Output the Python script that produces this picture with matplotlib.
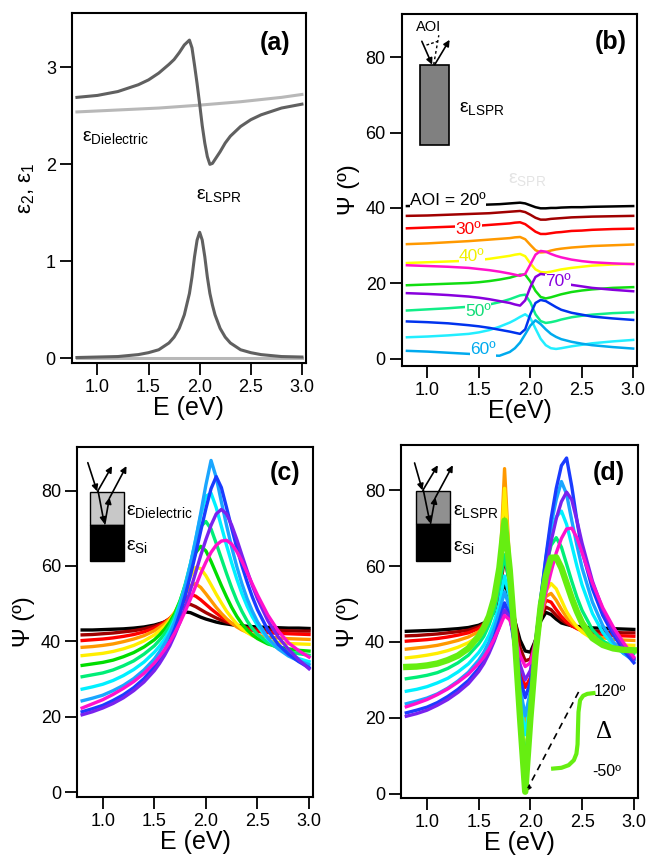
import numpy as np
import matplotlib.pyplot as plt
from matplotlib.patches import Rectangle

plt.rcParams['font.family'] = ['Liberation Sans', 'DejaVu Sans']
plt.rcParams['mathtext.fontset'] = 'custom'
plt.rcParams['mathtext.rm'] = 'Liberation Sans'
plt.rcParams['mathtext.it'] = 'Liberation Sans:italic'
plt.rcParams['mathtext.bf'] = 'Liberation Sans:bold'

# ---------------- panel (a): dielectric functions ----------------
Ea = [0.8, 1.0, 1.2, 1.4, 1.5, 1.6, 1.7, 1.75, 1.8, 1.85, 1.9, 1.925, 1.95, 1.975,
      2.0, 2.025, 2.05, 2.075, 2.1, 2.125, 2.15, 2.2, 2.25, 2.3, 2.4, 2.5, 2.6, 2.8, 3.0]
eps1_lspr = [2.69, 2.71, 2.75, 2.82, 2.87, 2.94, 3.03, 3.08, 3.15, 3.23, 3.28, 3.20, 3.02, 2.83,
             2.62, 2.40, 2.22, 2.08, 2.00, 2.01, 2.05, 2.13, 2.22, 2.29, 2.39, 2.46, 2.51, 2.58, 2.62]
eps2_lspr = [0.01, 0.015, 0.02, 0.04, 0.06, 0.09, 0.16, 0.22, 0.31, 0.45, 0.67, 0.84, 1.05, 1.22,
             1.30, 1.22, 1.05, 0.84, 0.67, 0.55, 0.45, 0.31, 0.22, 0.16, 0.09, 0.06, 0.04, 0.02, 0.015]
Ed = [0.8, 1.2, 1.6, 2.0, 2.4, 2.8, 3.0]
eps1_diel = [2.54, 2.56, 2.58, 2.61, 2.645, 2.69, 2.72]
eps2_diel = [0.0, 0.0, 0.0, 0.0, 0.0, 0.0, 0.0]

# ---------------- panel (b): Psi of LSPR bulk, AOI 20..75 ----------------
aoi = [20, 25, 30, 35, 40, 45, 50, 55, 60, 65, 70, 75]
Eb = [0.8, 1.0, 1.2, 1.4, 1.5, 1.6, 1.7, 1.8, 1.85, 1.9, 1.95, 2.0, 2.05, 2.1,
      2.15, 2.2, 2.25, 2.3, 2.4, 2.5, 2.6, 2.8, 3.0]
psi_b = {
    20: [40.5, 40.6, 40.6, 40.7, 40.8, 40.9, 41.0, 41.2, 41.3, 41.4, 41.2, 40.7, 40.2, 39.9,
         39.9, 40.0, 40.0, 40.1, 40.2, 40.2, 40.3, 40.4, 40.5],
    25: [37.9, 38.0, 38.2, 38.4, 38.5, 38.6, 38.8, 39.0, 39.1, 39.2, 38.9, 38.2, 37.4, 36.9,
         36.9, 37.1, 37.2, 37.3, 37.5, 37.6, 37.7, 37.8, 37.9],
    30: [34.6, 34.8, 35.0, 35.2, 35.3, 35.5, 35.7, 35.9, 36.1, 36.2, 35.7, 34.7, 33.7, 33.1,
         33.1, 33.3, 33.5, 33.6, 33.9, 34.0, 34.2, 34.4, 34.5],
    35: [30.4, 30.6, 30.9, 31.2, 31.4, 31.6, 31.8, 32.0, 32.2, 32.3, 31.7, 30.2, 28.8, 28.2,
         28.3, 28.7, 29.0, 29.2, 29.5, 29.7, 29.9, 30.1, 30.3],
    40: [25.4, 25.6, 25.8, 26.0, 26.2, 26.5, 26.9, 27.3, 27.6, 27.8, 27.2, 25.3, 23.7, 23.0,
         22.9, 23.1, 23.4, 23.7, 24.1, 24.4, 24.7, 25.0, 25.2],
    45: [19.5, 19.7, 19.9, 20.1, 20.3, 20.6, 21.0, 21.5, 21.9, 22.3, 22.3, 20.5, 18.0, 16.4,
         16.0, 16.3, 16.7, 17.1, 17.7, 18.1, 18.4, 18.8, 19.0],
    50: [12.8, 13.1, 13.4, 13.8, 14.0, 14.4, 15.0, 15.8, 16.3, 16.8, 17.0, 15.0, 11.8, 10.0,
         9.5, 9.7, 10.0, 10.4, 11.0, 11.4, 11.7, 12.1, 12.3],
    55: [5.7, 5.9, 6.2, 6.6, 7.0, 7.6, 8.5, 9.6, 10.3, 11.1, 11.8, 10.8, 8.0, 5.3,
         3.6, 2.8, 2.6, 2.8, 3.3, 3.7, 4.1, 4.6, 5.0],
    60: [2.1, 1.9, 1.6, 1.3, 1.1, 0.9, 0.8, 1.8, 2.8, 4.3, 6.5, 8.8, 10.2, 9.2,
         7.8, 6.6, 5.8, 5.2, 4.5, 4.0, 3.6, 3.1, 2.7],
    65: [9.9, 9.7, 9.4, 8.9, 8.6, 8.2, 7.7, 7.2, 6.9, 6.6, 7.8, 11.8, 14.8, 15.6,
         15.3, 14.5, 13.7, 13.0, 12.2, 11.7, 11.2, 10.7, 10.3],
    70: [17.4, 17.2, 16.9, 16.5, 16.2, 15.8, 15.3, 14.8, 14.4, 14.1, 15.5, 19.0, 21.7, 22.5,
         22.3, 21.6, 21.0, 20.4, 19.6, 19.2, 18.8, 18.3, 17.9],
    75: [24.8, 24.6, 24.4, 24.1, 23.8, 23.5, 23.1, 22.6, 22.3, 22.0, 22.5, 25.0, 27.6, 28.6,
         28.4, 27.8, 27.3, 26.9, 26.3, 25.9, 25.6, 25.3, 25.1],
}
colors_b = ['#000000', '#a00000', '#ff0000', '#ff9900', '#ffff00', '#11dd11',
            '#11ee88', '#22eeff', '#00aaee', '#0033ee', '#8800dd', '#ff11cc']

# ---------------- panels (c) and (d): film on Si ----------------
Ecd = [0.8, 0.9, 1.0, 1.1, 1.2, 1.3, 1.4, 1.5, 1.55, 1.6, 1.65, 1.7, 1.75, 1.8, 1.85, 1.9,
       1.95, 2.0, 2.05, 2.1, 2.15, 2.2, 2.25, 2.3, 2.35, 2.4, 2.45, 2.5, 2.6, 2.7, 2.8, 2.9, 3.0]
psi_c = {
    20: [43.0, 43.0, 43.1, 43.2, 43.3, 43.5, 43.8, 44.3, 44.7, 45.1, 45.7, 46.4, 47.2, 47.8, 47.6, 47.0,
         46.4, 45.9, 45.5, 45.1, 44.8, 44.6, 44.4, 44.2, 44.1, 44.0, 43.9, 43.8, 43.7, 43.6, 43.5, 43.5, 43.4],
    25: [41.7, 41.8, 42.0, 42.2, 42.5, 42.8, 43.3, 44.0, 44.5, 45.2, 46.0, 47.0, 48.4, 49.6, 49.8, 49.2,
         48.4, 47.6, 46.9, 46.2, 45.6, 45.1, 44.6, 44.2, 43.9, 43.6, 43.4, 43.2, 43.0, 42.9, 42.8, 42.7, 42.7],
    30: [40.2, 40.4, 40.6, 40.9, 41.3, 41.8, 42.5, 43.5, 44.2, 45.0, 46.1, 47.5, 49.3, 51.2, 52.4, 52.0,
         51.0, 49.8, 48.6, 47.5, 46.5, 45.6, 44.8, 44.1, 43.6, 43.2, 42.9, 42.6, 42.3, 42.1, 42.0, 41.9, 41.8],
    35: [38.4, 38.6, 38.9, 39.3, 39.9, 40.6, 41.5, 42.8, 43.7, 44.7, 46.0, 47.7, 50.0, 52.6, 54.8, 55.3,
         54.3, 52.6, 50.8, 49.0, 47.4, 46.0, 44.8, 43.8, 43.0, 42.4, 41.9, 41.6, 41.1, 40.9, 40.7, 40.6, 40.5],
    40: [36.2, 36.5, 36.8, 37.3, 38.0, 38.9, 40.1, 41.7, 42.8, 44.0, 45.6, 47.7, 50.5, 53.8, 57.2, 59.6,
         59.3, 57.4, 55.0, 52.5, 50.2, 48.0, 46.2, 44.6, 43.3, 42.3, 41.5, 40.9, 40.1, 39.7, 39.4, 39.3, 39.2],
    45: [33.6, 34.0, 34.4, 35.0, 35.9, 37.0, 38.5, 40.4, 41.7, 43.2, 45.1, 47.5, 50.8, 54.8, 59.5, 63.5,
         65.2, 64.0, 61.2, 58.0, 54.8, 51.8, 49.0, 46.6, 44.6, 43.0, 41.7, 40.7, 39.3, 38.5, 38.0, 37.6, 37.4],
    50: [30.6, 31.1, 31.6, 32.4, 33.5, 34.8, 36.6, 38.8, 40.3, 42.0, 44.1, 46.8, 50.6, 55.2, 60.5, 66.0,
         70.5, 71.8, 69.8, 66.0, 62.0, 58.0, 54.2, 50.8, 47.9, 45.4, 43.4, 41.8, 39.6, 38.2, 37.3, 36.7, 36.3],
    55: [27.3, 27.9, 28.6, 29.6, 30.9, 32.5, 34.5, 37.1, 38.7, 40.6, 42.9, 45.9, 49.9, 54.8, 60.5, 67.0,
         73.5, 78.5, 79.3, 75.5, 70.5, 65.5, 60.8, 56.5, 52.6, 49.3, 46.5, 44.2, 40.6, 38.2, 36.5, 35.4, 34.6],
    60: [24.2, 24.9, 25.7, 26.9, 28.3, 30.1, 32.4, 35.3, 37.2, 39.4, 42.0, 45.2, 49.5, 54.5, 60.3, 66.8,
         74.0, 81.5, 88.0, 83.5, 77.0, 70.8, 65.0, 59.8, 55.2, 51.3, 48.0, 45.2, 40.9, 38.0, 36.1, 34.8, 33.8],
    65: [21.3, 22.1, 23.0, 24.3, 25.8, 27.7, 30.1, 33.2, 35.2, 37.5, 40.2, 43.5, 47.5, 52.2, 57.5, 63.2,
         69.3, 75.2, 80.5, 83.7, 80.8, 75.5, 70.0, 64.8, 60.0, 55.7, 51.8, 48.4, 43.0, 39.2, 36.6, 34.6, 33.0],
    70: [20.5, 21.3, 22.3, 23.5, 25.0, 26.9, 29.2, 32.2, 34.1, 36.3, 38.8, 41.8, 45.2, 49.2, 53.6, 58.2,
         62.8, 67.0, 70.8, 73.8, 75.0, 73.8, 70.8, 67.0, 62.8, 58.7, 54.8, 51.3, 45.5, 41.2, 37.9, 35.1, 32.7],
    75: [22.3, 23.4, 24.5, 25.9, 27.5, 29.3, 31.5, 34.2, 35.9, 37.8, 39.9, 42.3, 45.0, 48.0, 51.2, 54.6,
         58.0, 61.0, 63.6, 65.5, 66.6, 66.8, 65.8, 63.8, 61.2, 58.2, 55.2, 52.3, 47.0, 42.8, 39.6, 37.5, 35.8],
}
psi_d = {
    20: [42.8, 42.9, 43.0, 43.1, 43.3, 43.5, 43.8, 44.4, 45.0, 46.0, 47.8, 51.0, 55.5, 51.5, 45.5, 40.5,
         37.6, 37.3, 40.5, 45.5, 47.8, 47.2, 46.0, 45.0, 44.6, 44.3, 44.1, 43.9, 43.7, 43.6, 43.5, 43.4, 43.3],
    25: [41.6, 41.7, 41.9, 42.1, 42.4, 42.7, 43.1, 44.0, 44.8, 46.2, 48.6, 53.0, 62.0, 55.5, 45.5, 38.5,
         35.0, 35.5, 40.5, 46.5, 49.2, 48.5, 47.0, 45.8, 44.9, 44.2, 43.7, 43.3, 42.9, 42.7, 42.5, 42.4, 42.4],
    30: [40.2, 40.4, 40.6, 40.9, 41.3, 41.8, 42.4, 43.5, 44.5, 46.0, 48.8, 54.5, 73.0, 60.0, 44.0, 33.0,
         28.0, 30.5, 39.0, 47.0, 51.0, 50.5, 48.5, 46.7, 45.3, 44.3, 43.5, 42.9, 42.2, 41.9, 41.7, 41.6, 41.5],
    35: [38.1, 38.4, 38.7, 39.1, 39.7, 40.4, 41.3, 42.7, 43.8, 45.5, 48.8, 56.0, 85.7, 60.0, 40.0, 26.0,
         18.5, 24.0, 36.0, 46.5, 52.0, 52.8, 51.0, 48.6, 46.5, 45.0, 43.8, 42.9, 41.7, 41.1, 40.7, 40.5, 40.4],
    40: [35.8, 36.1, 36.5, 37.0, 37.7, 38.6, 39.8, 41.5, 42.8, 44.8, 48.5, 57.0, 80.5, 60.0, 38.5, 22.0,
         11.0, 19.5, 35.0, 47.0, 53.5, 55.4, 54.0, 51.0, 48.0, 45.8, 44.0, 42.6, 40.8, 39.9, 39.4, 39.2, 39.1],
    45: [33.4, 33.5, 33.8, 34.3, 35.2, 36.4, 38.3, 41.5, 43.8, 46.8, 51.5, 59.5, 72.0, 59.0, 41.0, 20.0,
         0.5, 20.0, 37.0, 49.5, 57.5, 62.2, 62.3, 59.5, 55.5, 51.5, 48.0, 45.0, 41.0, 39.2, 38.3, 37.9, 37.8],
    50: [30.3, 30.7, 31.2, 31.9, 33.0, 34.5, 36.5, 39.5, 41.5, 44.5, 48.5, 54.5, 63.0, 55.0, 38.0, 20.0,
         9.0, 22.0, 38.0, 51.0, 60.0, 65.5, 67.5, 65.0, 60.5, 56.0, 51.8, 48.3, 43.2, 40.3, 38.6, 37.6, 37.0],
    55: [27.0, 27.5, 28.2, 29.2, 30.4, 32.1, 34.2, 37.2, 39.2, 41.8, 45.2, 50.0, 57.4, 51.5, 38.5, 25.0,
         15.5, 25.0, 38.5, 51.0, 61.0, 68.5, 73.0, 74.5, 71.0, 65.5, 60.0, 55.0, 47.5, 42.5, 39.2, 37.0, 35.5],
    60: [23.7, 24.4, 25.2, 26.3, 27.8, 29.7, 32.0, 35.2, 37.3, 40.0, 43.5, 48.0, 53.2, 49.0, 38.5, 28.0,
         20.5, 27.0, 39.5, 51.5, 62.0, 71.0, 77.5, 82.3, 79.0, 72.0, 65.5, 59.5, 50.5, 44.3, 40.0, 37.0, 35.0],
    65: [21.3, 22.0, 22.8, 24.0, 25.6, 27.5, 29.8, 33.0, 35.2, 38.0, 41.3, 45.6, 50.3, 47.0, 38.5, 30.5,
         25.3, 29.5, 40.0, 51.5, 62.5, 72.5, 80.5, 86.5, 88.5, 81.0, 72.0, 64.0, 54.0, 47.0, 42.0, 37.8, 34.5],
    70: [20.4, 21.1, 22.0, 23.3, 24.8, 26.7, 29.0, 32.2, 34.3, 37.0, 40.2, 44.0, 48.4, 46.5, 40.5, 34.0,
         30.0, 32.5, 40.5, 50.0, 59.0, 66.5, 72.5, 77.0, 79.5, 77.5, 72.0, 66.0, 56.0, 48.5, 43.0, 38.8, 35.5],
    75: [22.9, 23.8, 24.8, 26.1, 27.6, 29.4, 31.5, 34.3, 36.0, 38.2, 40.8, 43.8, 47.0, 45.8, 41.5, 36.5,
         33.5, 34.5, 40.0, 46.5, 53.0, 58.5, 63.5, 67.3, 69.8, 70.0, 67.5, 63.5, 55.5, 49.0, 44.0, 39.8, 36.0],
}
colors_cd = ['#000000', '#a00000', '#ff0000', '#ff9900', '#ffee00', '#00dd00',
             '#00ee77', '#00f0ff', '#1aa6ff', '#1a3cff', '#7a22ee', '#ff11cc']
lime = '#66ee11'

# Delta step drawn inside panel (d)
E_delta = [2.22, 2.30, 2.37, 2.42, 2.445, 2.456, 2.46, 2.465, 2.48, 2.51, 2.55, 2.61]
psi_delta = [6.6, 6.8, 7.5, 8.8, 10.5, 13.0, 17.0, 21.5, 24.6, 25.8, 26.3, 26.5]


def style(ax, ylim, yticks):
    ax.set_xlim(0.75, 3.04)
    ax.set_ylim(*ylim)
    ax.set_xticks([1.0, 1.5, 2.0, 2.5, 3.0])
    ax.set_xticklabels(['1.0', '1.5', '2.0', '2.5', '3.0'])
    ax.set_yticks(yticks)
    ax.tick_params(direction='out', length=8.5, width=1.3, labelsize=13,
                   top=False, right=False, pad=3)
    for s in ax.spines.values():
        s.set_linewidth(1.5)


def arrow(ax, p0, p1, lw=1.2):
    ax.annotate('', xy=p1, xytext=p0,
                arrowprops=dict(arrowstyle='-|>', color='k', lw=lw,
                                mutation_scale=9, shrinkA=0, shrinkB=0))


def eps(sub):
    return 'ε$_{\\mathregular{' + sub + '}}$'


fig = plt.figure(figsize=(6.47, 8.61), dpi=100)
ax_a = fig.add_axes([0.111, 0.578, 0.362, 0.407])
ax_b = fig.add_axes([0.621, 0.575, 0.364, 0.409])
ax_c = fig.add_axes([0.119, 0.074, 0.365, 0.407])
ax_d = fig.add_axes([0.620, 0.073, 0.366, 0.410])

# (a)
ax_a.plot(Ed, eps1_diel, color='#b8b8b8', lw=2.2)
ax_a.plot(Ed, eps2_diel, color='#b8b8b8', lw=2.2)
ax_a.plot(Ea, eps1_lspr, color='#606060', lw=2.2)
ax_a.plot(Ea, eps2_lspr, color='#606060', lw=2.2)
style(ax_a, (-0.05, 3.56), [0, 1, 2, 3])
ax_a.set_xlabel('E (eV)', fontsize=18, labelpad=0)
ax_a.set_ylabel('ε$_{\\mathregular{2}}$, ε$_{\\mathregular{1}}$', fontsize=16, labelpad=6)
ax_a.text(0.85, 2.28, eps('Dielectric'), fontsize=14, va='center')
ax_a.text(1.96, 1.68, eps('LSPR'), fontsize=14, va='center')
ax_a.text(0.935, 0.915, '(a)', transform=ax_a.transAxes, fontsize=18,
          fontweight='bold', ha='right', va='center')

# (b)
for a, c in zip(aoi, colors_b):
    ax_b.plot(Eb, psi_b[a], color=c, lw=1.8)
style(ax_b, (-1.9, 91.5), [0, 20, 40, 60, 80])
ax_b.set_xlabel('E(eV)', fontsize=18, labelpad=0)
ax_b.set_ylabel('Ψ (º)', fontsize=17, labelpad=4)
lab = dict(fontsize=12.5, va='center', ha='center',
           bbox=dict(facecolor='white', edgecolor='none', pad=0.3))
ax_b.text(0.83, 42.0, 'AOI = 20º', color='k', **{**lab, 'ha': 'left'})
ax_b.text(1.40, 34.4, '30º', color='#ff0000', **lab)
ax_b.text(1.43, 27.0, '40º', color='#f0f000', **lab)
ax_b.text(1.49, 12.6, '50º', color='#11dd77', **lab)
ax_b.text(1.54, 2.4, '60º', color='#00aaee', **lab)
ax_b.text(2.27, 20.5, '70º', color='#8800dd', **lab)
ax_b.text(1.78, 47.5, eps('SPR'), color='#e4e4e4', fontsize=14, va='center')
ax_b.add_patch(Rectangle((0.93, 56.8), 0.28, 21.0, facecolor='#808080',
                         edgecolor='k', lw=1.2, zorder=3))
ax_b.text(1.31, 66.5, eps('LSPR'), fontsize=14, va='center')
ax_b.text(1.01, 88.0, 'AOI', fontsize=10.5, ha='center', va='center')
arrow(ax_b, (0.945, 84.2), (1.045, 78.0))
arrow(ax_b, (1.07, 78.0), (1.215, 84.6))
ax_b.plot([1.06, 1.11], [78.0, 85.8], color='k', lw=1.0, ls=(0, (2, 2)))
ax_b.plot([0.99, 1.10], [83.2, 84.2], color='k', lw=1.0, ls=(0, (2, 1.5)))
ax_b.text(0.955, 0.92, '(b)', transform=ax_b.transAxes, fontsize=18,
          fontweight='bold', ha='right', va='center')

# (c)
for a, c in zip(aoi, colors_cd):
    ax_c.plot(Ecd, psi_c[a], color=c, lw=2.4)
style(ax_c, (-1.4, 91.6), [0, 20, 40, 60, 80])
ax_c.set_xlabel('E (eV)', fontsize=18, labelpad=0)
ax_c.set_ylabel('Ψ (º)', fontsize=17, labelpad=4)
ax_c.add_patch(Rectangle((0.877, 70.9), 0.328, 8.8, facecolor='#c8c8c8',
                         edgecolor='k', lw=1.0, zorder=3))
ax_c.add_patch(Rectangle((0.877, 61.3), 0.328, 9.6, facecolor='k',
                         edgecolor='k', lw=1.0, zorder=3))
arrow(ax_c, (0.855, 87.4), (0.945, 79.8))
arrow(ax_c, (0.95, 79.8), (1.09, 86.5))
arrow(ax_c, (0.955, 79.8), (1.015, 71.2))
arrow(ax_c, (1.02, 71.2), (1.065, 78.2))
arrow(ax_c, (1.065, 78.0), (1.23, 86.5))
ax_c.text(1.23, 74.4, eps('Dielectric'), fontsize=14, va='center')
ax_c.text(1.23, 65.1, eps('Si'), fontsize=14, va='center')
ax_c.text(0.945, 0.925, '(c)', transform=ax_c.transAxes, fontsize=18,
          fontweight='bold', ha='right', va='center')

# (d)
for a, c in zip(aoi, colors_cd):
    if a == 45:
        continue
    ax_d.plot(Ecd, psi_d[a], color=c, lw=2.4)
ax_d.plot(Ecd, psi_d[45], color=lime, lw=4.6, zorder=4)
style(ax_d, (-1.2, 91.9), [0, 20, 40, 60, 80])
ax_d.set_xlabel('E (eV)', fontsize=18, labelpad=0)
ax_d.set_ylabel('Ψ (º)', fontsize=17, labelpad=4)
ax_d.add_patch(Rectangle((0.897, 71.0), 0.323, 8.8, facecolor='#909090',
                         edgecolor='k', lw=1.0, zorder=3))
ax_d.add_patch(Rectangle((0.897, 61.4), 0.323, 9.6, facecolor='k',
                         edgecolor='k', lw=1.0, zorder=3))
arrow(ax_d, (0.88, 87.2), (0.955, 80.0))
arrow(ax_d, (0.96, 80.0), (1.105, 86.6))
arrow(ax_d, (0.965, 80.0), (1.03, 71.3))
arrow(ax_d, (1.035, 71.3), (1.08, 78.2))
arrow(ax_d, (1.08, 78.0), (1.25, 86.6))
ax_d.text(1.25, 74.5, eps('LSPR'), fontsize=14, va='center', zorder=2)
ax_d.text(1.25, 65.0, eps('Si'), fontsize=14, va='center')
ax_d.plot(E_delta, psi_delta, color=lime, lw=3.0, zorder=5)
ax_d.plot([2.466, 1.975], [26.8, 1.4], color='k', lw=1.2, ls=(0, (4, 3)), zorder=5)
arrow(ax_d, (1.99, 2.2), (1.95, 0.4))
ax_d.text(2.61, 26.8, '120º', fontsize=11.5, va='center')
ax_d.text(2.60, 5.7, '-50º', fontsize=11.5, va='center')
ax_d.text(2.71, 16.3, 'Δ', fontsize=18, ha='center', va='center',
          family=['Liberation Serif', 'DejaVu Serif'])
ax_d.text(0.945, 0.92, '(d)', transform=ax_d.transAxes, fontsize=18,
          fontweight='bold', ha='right', va='center')

fig.savefig('out.png', dpi=100)
